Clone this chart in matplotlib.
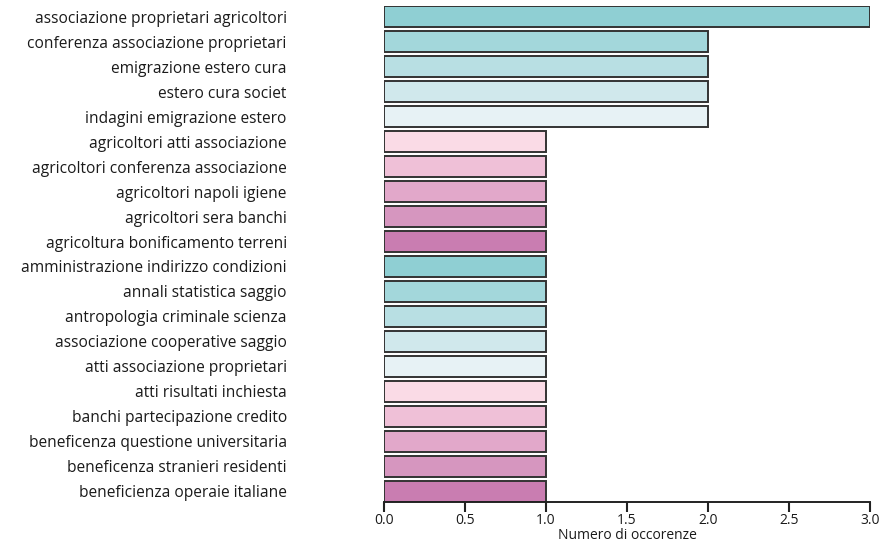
import matplotlib
matplotlib.use("Agg")
import matplotlib.pyplot as plt

labels = [
    "associazione proprietari agricoltori",
    "conferenza associazione proprietari",
    "emigrazione estero cura",
    "estero cura societ",
    "indagini emigrazione estero",
    "agricoltori atti associazione",
    "agricoltori conferenza associazione",
    "agricoltori napoli igiene",
    "agricoltori sera banchi",
    "agricoltura bonificamento terreni",
    "amministrazione indirizzo condizioni",
    "annali statistica saggio",
    "antropologia criminale scienza",
    "associazione cooperative saggio",
    "atti associazione proprietari",
    "atti risultati inchiesta",
    "banchi partecipazione credito",
    "beneficenza questione universitaria",
    "beneficenza stranieri residenti",
    "beneficienza operaie italiane",
]
values = [3, 2, 2, 2, 2, 1, 1, 1, 1, 1, 1, 1, 1, 1, 1, 1, 1, 1, 1, 1]
palette = ["#8fcfd3", "#a3d7db", "#b8dfe3", "#d0e8ec", "#e7f2f5",
           "#fadbe6", "#efc0d7", "#e2a8ca", "#d696bf", "#c97db1"]

plt.rcParams['font.family'] = ['Open Sans', 'DejaVu Sans']
fig = plt.figure(figsize=(8.92, 5.53), dpi=100)
ax = fig.add_axes([0.4305, 0.0922, 0.5448, 0.897])

h = 0.86
colors = [palette[i % len(palette)] for i in range(len(labels))]
ax.barh(range(len(labels)), values, height=h, color=colors,
        edgecolor="#333333", linewidth=1.4)
ax.set_ylim(len(labels) - 1 + h / 2, -h / 2)
ax.set_xlim(0, 3.0)
ax.set_yticks(range(len(labels)))
ax.set_yticklabels(labels, fontsize=11.2, color="#1a1a1a")
ax.tick_params(axis="y", length=0, pad=70)
ax.set_xticks([0, 0.5, 1.0, 1.5, 2.0, 2.5, 3.0])
ax.set_xticklabels(["0.0", "0.5", "1.0", "1.5", "2.0", "2.5", "3.0"], fontsize=10, color="#1a1a1a")
ax.tick_params(axis="x", length=7, width=1.5, pad=1, color="#222222")
for s in ["top", "right", "left"]:
    ax.spines[s].set_visible(False)
ax.spines["bottom"].set_linewidth(1.4)
ax.spines["bottom"].set_color("#222222")
ax.set_xlabel("Numero di occorenze", fontsize=10, labelpad=0, color="#1a1a1a")

fig.savefig("out.png", dpi=100)
